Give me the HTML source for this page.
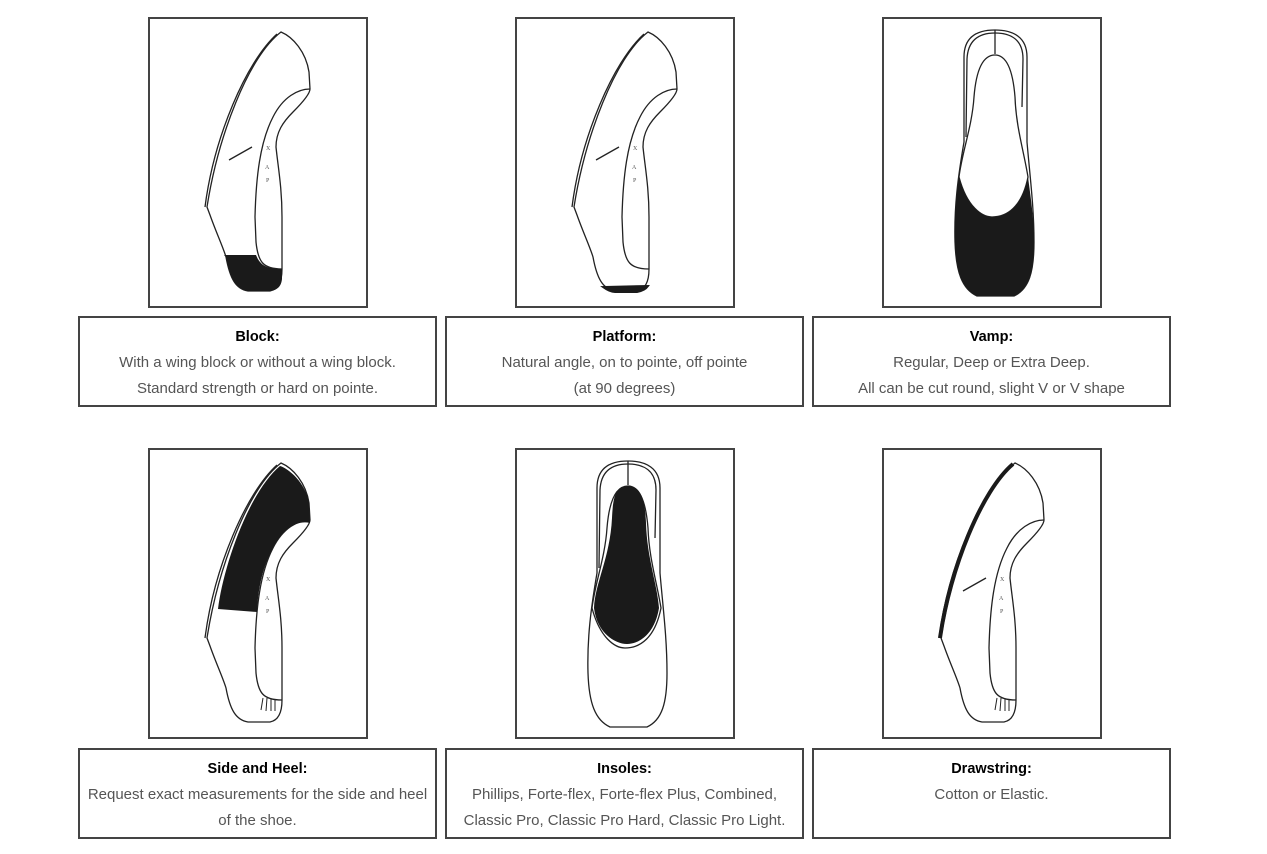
<!DOCTYPE html>
<html><head><meta charset="utf-8"><style>
body{margin:0;background:#fff;width:1267px;height:854px;position:relative;overflow:hidden;font-family:"Liberation Sans",sans-serif}
.img{position:absolute;width:216px;height:287px;border:2px solid #444;background:#fff}
.img svg{display:block}
.txt{position:absolute;width:355px;height:87px;border:2px solid #444;background:#fff;text-align:center;font-size:15px;color:#555;line-height:26px;box-sizing:content-box}
.txt b{display:block;color:#000;margin-top:6px;line-height:26px;font-size:14.5px}
</style></head><body>
<svg width="0" height="0" style="position:absolute">
<defs>
<g id="side" fill="none" stroke="#222" stroke-width="1.3">
<path d="M133,15 C100,40 70,120 59,190 L62,198 C68,215 75,230 78,240 C82,262 88,272 100,274 L122,274 C132,272 134,262 134,252 L134,200 C134,170 130,150 128,130 C128,115 135,105 145,95 C155,85 162,76 162,72 L161,55 C158,35 145,20 133,15 Z" fill="#fff"/>
<path d="M162,72 C150,72 135,80 125,100 C112,125 108,160 107,200 L108,225 C110,245 115,252 134,252"/>
<path d="M129,17 C98,45 66,120 57,190"/>
</g>
<g id="letters" fill="#555" font-size="6" font-family="Liberation Serif,serif"><text x="118" y="133">X</text><text x="117" y="152">A</text><text x="118" y="165">P</text></g>
<g id="front" fill="none" stroke="#222" stroke-width="1.3">
<path d="M113,13 C95,13 82,20 82,40 L82,125 C76,160 72,190 73,225 C74,255 80,272 95,279 L132,279 C147,272 152,255 152,225 C152,190 148,160 145,125 L145,40 C145,20 131,13 113,13Z" fill="#fff"/>
<path d="M113,16 C98,16 86,22 85,42 L84,120 M113,16 C128,16 141,22 141,42 L140,90"/>
<path d="M113,38 C100,38 94,55 92,80 C90,110 80,135 77,160 C85,190 100,200 110,200 C125,200 140,190 146,160 C142,135 134,110 133,80 C131,55 125,38 113,38Z"/>
<path d="M113,13 L113,37"/>
</g>
</defs></svg>

<div class="img" style="left:148px;top:17px"><svg width="216" height="287" viewBox="2 2 216 287">
<use href="#side"/><use href="#letters"/>
<path d="M81,143 L104,130" stroke="#222" stroke-width="1.3"/>
<path d="M76,238 L108,238 C112,248 118,252 134,252 L134,262 C133,272 126,274 120,274 L100,274 C88,272 82,262 78,240Z" fill="#1a1a1a"/>
</svg></div>

<div class="img" style="left:515px;top:17px"><svg width="216" height="287" viewBox="2 2 216 287">
<use href="#side"/><use href="#letters"/>
<path d="M81,143 L104,130" stroke="#222" stroke-width="1.3"/>
<path d="M88,270 C92,273 96,275 100,275 L122,275 C128,274 131,272 133,269 Z" fill="#1a1a1a" stroke="#1a1a1a" stroke-width="2"/>
</svg></div>

<div class="img" style="left:882px;top:17px"><svg width="216" height="287" viewBox="2 2 216 287">
<use href="#front"/>
<path d="M77,160 C85,190 100,200 110,200 C125,200 140,190 146,160 C150,190 152,205 152,225 C152,255 147,272 132,279 L95,279 C80,272 74,255 73,225 C72,200 74,180 77,160Z" fill="#1a1a1a"/>
</svg></div>

<div class="img" style="left:148px;top:448px"><svg width="216" height="287" viewBox="2 2 216 287">
<use href="#side"/><use href="#letters"/>
<path d="M132,18 C140,20 158,35 161,55 L162,75 C150,72 135,80 125,100 C115,118 110,140 109,164 L70,161 C75,120 100,45 132,18Z" fill="#1a1a1a"/>
<path d="M115,250 L113,262 M119,250 L118,263 M123,251 L123,263 M127,252 L127,263" stroke="#222" stroke-width="1"/>
</svg></div>

<div class="img" style="left:515px;top:448px"><svg width="216" height="287" viewBox="2 2 216 287">
<use href="#front"/>
<path d="M113,38 C100,38 98,50 97,70 C95,110 80,135 79,160 C82,185 100,196 112,196 C125,196 140,185 144,160 C142,135 132,110 131,75 C130,50 125,38 113,38Z" fill="#1a1a1a"/>
</svg></div>

<div class="img" style="left:882px;top:448px"><svg width="216" height="287" viewBox="2 2 216 287">
<use href="#side"/><use href="#letters"/>
<path d="M81,143 L104,130" stroke="#222" stroke-width="1.3"/>
<path d="M131,16 C100,42 68,120 58,190" stroke="#1a1a1a" stroke-width="4" fill="none"/>
<path d="M115,250 L113,262 M119,250 L118,263 M123,251 L123,263 M127,252 L127,263" stroke="#222" stroke-width="1"/>
</svg></div>

<div class="txt" style="left:78px;top:316px"><b>Block:</b>With a wing block or without a wing block.<br>Standard strength or hard on pointe.</div>
<div class="txt" style="left:445px;top:316px"><b>Platform:</b>Natural angle, on to pointe, off pointe<br>(at 90 degrees)</div>
<div class="txt" style="left:812px;top:316px"><b>Vamp:</b>Regular, Deep or Extra Deep.<br>All can be cut round, slight V or V shape</div>
<div class="txt" style="left:78px;top:748px"><b>Side and Heel:</b>Request exact measurements for the side and heel<br>of the shoe.</div>
<div class="txt" style="left:445px;top:748px"><b>Insoles:</b>Phillips, Forte-flex, Forte-flex Plus, Combined,<br>Classic Pro, Classic Pro Hard, Classic Pro Light.</div>
<div class="txt" style="left:812px;top:748px"><b>Drawstring:</b>Cotton or Elastic.</div>
</body></html>
